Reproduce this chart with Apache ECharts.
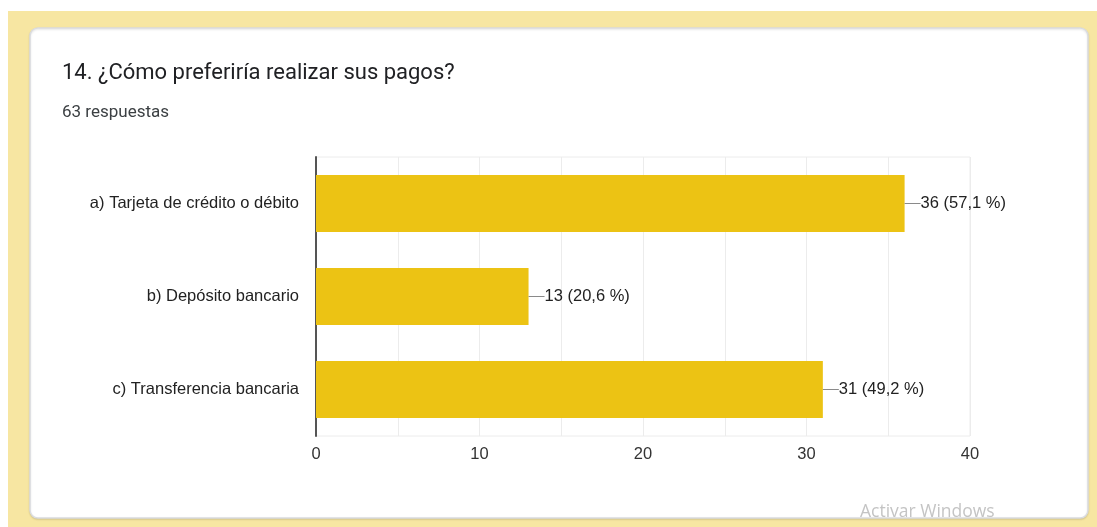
<!DOCTYPE html>
<html>
<head>
<meta charset="utf-8">
<script src="https://cdn.jsdelivr.net/npm/echarts@6/dist/echarts.min.js"></script>
<style>
  html, body { margin: 0; padding: 0; background: #ffffff; }
  #chart { width: 1097px; height: 527px; }
</style>
</head>
<body>
<div id="chart"></div>
<script>
// Survey question 14: preferred payment method (63 responses)
const categories = [
  'a) Tarjeta de crédito o débito',
  'b) Depósito bancario',
  'c) Transferencia bancaria'
];
const counts = [36, 13, 31];
const totalResponses = 63;
const xTicks = [0, 10, 20, 30, 40];

const questionTitle = '14. ¿Cómo preferiría realizar sus pagos?';
const responsesText = totalResponses + ' respuestas';

const barColor = '#ecc314';
const labelFont = 'Arial, sans-serif';

function pctLabel(v) {
  return v + ' (' + (v / totalResponses * 100).toFixed(1).replace('.', ',') + ' %)';
}

const chart = echarts.init(document.getElementById('chart'), null, { renderer: 'canvas' });

chart.setOption({
  animation: false,
  backgroundColor: '#ffffff',
  graphic: [
    // yellow page background
    { type: 'rect', z: -10, silent: true,
      shape: { x: 8, y: 11, width: 1089, height: 516 },
      style: { fill: '#f7e6a2' } },
    // white card
    { type: 'rect', z: -9, silent: true,
      shape: { x: 30, y: 28, width: 1058, height: 490, r: 8 },
      style: { fill: '#ffffff', stroke: '#dadce0', lineWidth: 1.5,
               shadowColor: 'rgba(0,0,0,0.12)', shadowBlur: 2, shadowOffsetY: 1 } },
    { type: 'text', left: 62, top: 62, silent: true,
      style: { text: questionTitle, font: '400 22px Roboto, "Noto Sans", sans-serif', fill: '#202124' } },
    { type: 'text', left: 62, top: 104, silent: true,
      style: { text: responsesText, font: '400 17px Roboto, "Noto Sans", sans-serif', fill: '#3c4043' } },
    { type: 'text', left: 860, top: 503, silent: true, z: 100,
      style: { text: 'Activar Windows', font: '400 17.5px "Open Sans", "Noto Sans", sans-serif', fill: '#c4c4c4' } }
  ],
  grid: { left: 316, right: 127, top: 157, bottom: 91, containLabel: false,
          show: true, borderColor: '#ececec', borderWidth: 1 },
  xAxis: {
    type: 'value',
    min: 0, max: 40, interval: 5,
    axisLine: { show: false },
    axisTick: { show: false },
    splitLine: { show: true, lineStyle: { color: '#ececec', width: 1 } },
    axisLabel: {
      margin: 10,
      color: '#333333',
      fontFamily: labelFont,
      fontSize: 16.5,
      formatter: v => (xTicks.indexOf(v) >= 0 ? String(v) : '')
    }
  },
  yAxis: {
    type: 'category',
    data: categories,
    inverse: true,
    axisLine: { show: true, lineStyle: { color: '#555555', width: 2 } },
    axisTick: { show: false },
    splitLine: { show: false },
    axisLabel: {
      margin: 17,
      color: '#222222',
      fontFamily: labelFont,
      fontSize: 16.5
    }
  },
  series: [
    {
      type: 'bar',
      data: counts,
      barWidth: 57,
      itemStyle: { color: barColor },
      label: { show: false },
      z: 2
    },
    {
      // leader lines and value labels at the end of each bar
      type: 'custom',
      data: counts.map((v, i) => [v, i]),
      z: 5,
      renderItem: function (params, api) {
        const p = api.coord([api.value(0), api.value(1)]);
        return {
          type: 'group',
          children: [
            { type: 'line',
              shape: { x1: p[0], y1: p[1], x2: p[0] + 16, y2: p[1] },
              style: { stroke: '#8a8a8a', lineWidth: 1 } },
            { type: 'text',
              style: { x: p[0] + 16, y: p[1], text: pctLabel(api.value(0)),
                       textAlign: 'left', textVerticalAlign: 'middle',
                       font: '400 16.5px ' + labelFont, fill: '#222222' } }
          ]
        };
      }
    }
  ]
});
</script>
</body>
</html>
